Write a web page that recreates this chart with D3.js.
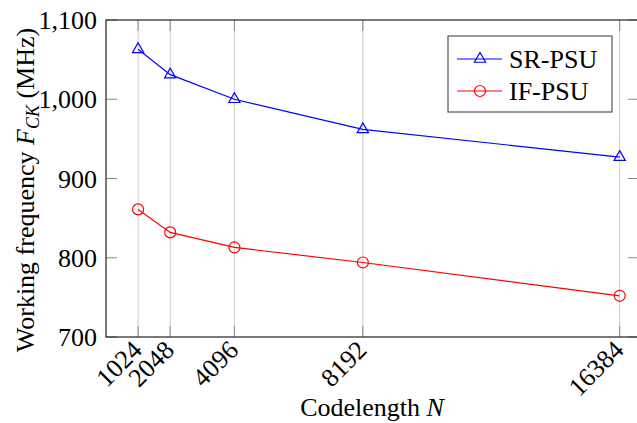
<!DOCTYPE html>
<html>
<head>
<meta charset="utf-8">
<script src="https://cdn.jsdelivr.net/npm/d3@7"></script>
<style>
  body { margin: 0; background: #fff; }
  svg, svg text { font-family: "Liberation Serif", "Times New Roman", Times, "DejaVu Serif", serif; }
</style>
</head>
<body>
<div id="chart"></div>
<script>
// data
var codelengths = [1024, 2048, 4096, 8192, 16384];
var srPsu = [1063, 1031, 1000, 962, 927];
var ifPsu = [861, 832, 813, 794, 752];
var yTicks = [700, 800, 900, 1000, 1100];
var seriesNames = ["SR-PSU", "IF-PSU"];

var margin = {top: 20, right: -2, bottom: 86, left: 106},
    width = 637 - margin.left - margin.right,
    height = 423 - margin.top - margin.bottom;

var serif = "'Liberation Serif', 'Times New Roman', Times, serif";

var svg = d3.select("#chart").append("svg")
    .attr("width", 637)
    .attr("height", 423)
    .attr("font-family", serif);

var g = svg.append("g")
    .attr("transform", "translate(" + margin.left + "," + margin.top + ")");

var x = d3.scaleLinear().domain([0, 17000]).range([0, width]);
var y = d3.scaleLinear().domain([700, 1100]).range([height, 0]);

// vertical grid lines
g.selectAll(".grid")
  .data(codelengths)
  .enter()
  .append("line")
  .attr("class", "grid")
  .attr("x1", function(d) { return x(d); })
  .attr("x2", function(d) { return x(d); })
  .attr("y1", 0)
  .attr("y2", height)
  .attr("stroke", "#cccccc")
  .attr("stroke-width", 1);

// inward tick marks, top and bottom
var tickLen = 11;
[0, height].forEach(function(yy, i) {
  g.selectAll(".xt" + i)
    .data(codelengths)
    .enter()
    .append("line")
    .attr("x1", function(d) { return x(d); })
    .attr("x2", function(d) { return x(d); })
    .attr("y1", yy)
    .attr("y2", i === 0 ? yy + tickLen : yy - tickLen)
    .attr("stroke", "#888")
    .attr("stroke-width", 1);
});

// y ticks on left and right, pointing inward
[0, width].forEach(function(xx, i) {
  g.selectAll(".yt" + i)
    .data(yTicks)
    .enter()
    .append("line")
    .attr("x1", xx)
    .attr("x2", i === 0 ? xx + tickLen : xx - tickLen)
    .attr("y1", function(d) { return y(d); })
    .attr("y2", function(d) { return y(d); })
    .attr("stroke", "#888")
    .attr("stroke-width", 1);
});

// frame
g.append("rect")
  .attr("x", 0).attr("y", 0)
  .attr("width", width).attr("height", height)
  .attr("fill", "none")
  .attr("stroke", "#222")
  .attr("stroke-width", 1.2);

// y tick labels
var fmt = d3.format(",");
g.selectAll(".ylab")
  .data(yTicks)
  .enter()
  .append("text")
  .attr("x", -9)
  .attr("y", function(d) { return y(d); })
  .attr("dy", "0.35em")
  .attr("text-anchor", "end")
  .attr("font-size", 26)
  .attr("fill", "#000")
  .text(function(d) { return fmt(d); });

// x tick labels, rotated 45
g.selectAll(".xlab")
  .data(codelengths)
  .enter()
  .append("text")
  .attr("text-anchor", "end")
  .attr("dy", "0.35em")
  .attr("font-size", 26)
  .attr("fill", "#000")
  .attr("transform", function(d) {
    return "translate(" + (x(d) - 1) + "," + (height + 8) + ") rotate(-45)";
  })
  .text(function(d) { return d; });

// axis labels
var xl = svg.append("text")
  .attr("x", 372)
  .attr("y", 416)
  .attr("text-anchor", "middle")
  .attr("font-size", 26)
  .attr("fill", "#000");
xl.append("tspan").text("Codelength ");
xl.append("tspan").attr("font-style", "italic").text("N");

var yl = svg.append("text")
  .attr("transform", "translate(34,190) rotate(-90)")
  .attr("text-anchor", "middle")
  .attr("font-size", 26)
  .attr("fill", "#000");
yl.append("tspan").text("Working frequency ");
yl.append("tspan").attr("font-style", "italic").text("F");
yl.append("tspan").attr("font-style", "italic").attr("font-size", 18).attr("dy", 5).text("CK");
yl.append("tspan").attr("dy", -5).text(" (MHz)");

// series
var line = d3.line()
  .x(function(d, i) { return x(codelengths[i]); })
  .y(function(d) { return y(d); });

var tri = d3.symbol().type(d3.symbolTriangle).size(55);

g.append("path")
  .datum(srPsu)
  .attr("d", line)
  .attr("fill", "none")
  .attr("stroke", "#0000ff")
  .attr("stroke-width", 1.2);

g.selectAll(".sr")
  .data(srPsu)
  .enter()
  .append("path")
  .attr("d", tri)
  .attr("fill", "none")
  .attr("stroke", "#0000ff")
  .attr("stroke-width", 1.2)
  .attr("transform", function(d, i) {
    return "translate(" + x(codelengths[i]) + "," + y(d) + ")";
  });

g.append("path")
  .datum(ifPsu)
  .attr("d", line)
  .attr("fill", "none")
  .attr("stroke", "#ff0000")
  .attr("stroke-width", 1.2);

g.selectAll(".if")
  .data(ifPsu)
  .enter()
  .append("circle")
  .attr("cx", function(d, i) { return x(codelengths[i]); })
  .attr("cy", function(d) { return y(d); })
  .attr("r", 5.5)
  .attr("fill", "none")
  .attr("stroke", "#ff0000")
  .attr("stroke-width", 1.2);

// legend
var legend = svg.append("g").attr("transform", "translate(448,36)");
legend.append("rect")
  .attr("width", 164).attr("height", 76)
  .attr("fill", "#fff")
  .attr("stroke", "#555")
  .attr("stroke-width", 1.2);

var colors = ["#0000ff", "#ff0000"];
var rows = legend.selectAll(".row")
  .data(seriesNames)
  .enter()
  .append("g")
  .attr("transform", function(d, i) { return "translate(0," + (23 + i * 32) + ")"; });

rows.append("line")
  .attr("x1", 9).attr("x2", 54)
  .attr("stroke", function(d, i) { return colors[i]; })
  .attr("stroke-width", 1.2);

rows.filter(function(d, i) { return i === 0; })
  .append("path")
  .attr("d", tri)
  .attr("transform", "translate(32,0)")
  .attr("fill", "none")
  .attr("stroke", colors[0])
  .attr("stroke-width", 1.2);

rows.filter(function(d, i) { return i === 1; })
  .append("circle")
  .attr("cx", 32).attr("r", 5.5)
  .attr("fill", "none")
  .attr("stroke", colors[1])
  .attr("stroke-width", 1.2);

rows.append("text")
  .attr("x", 61)
  .attr("dy", "0.33em")
  .attr("font-size", 26)
  .attr("fill", "#000")
  .text(function(d) { return d; });
</script>
</body>
</html>
